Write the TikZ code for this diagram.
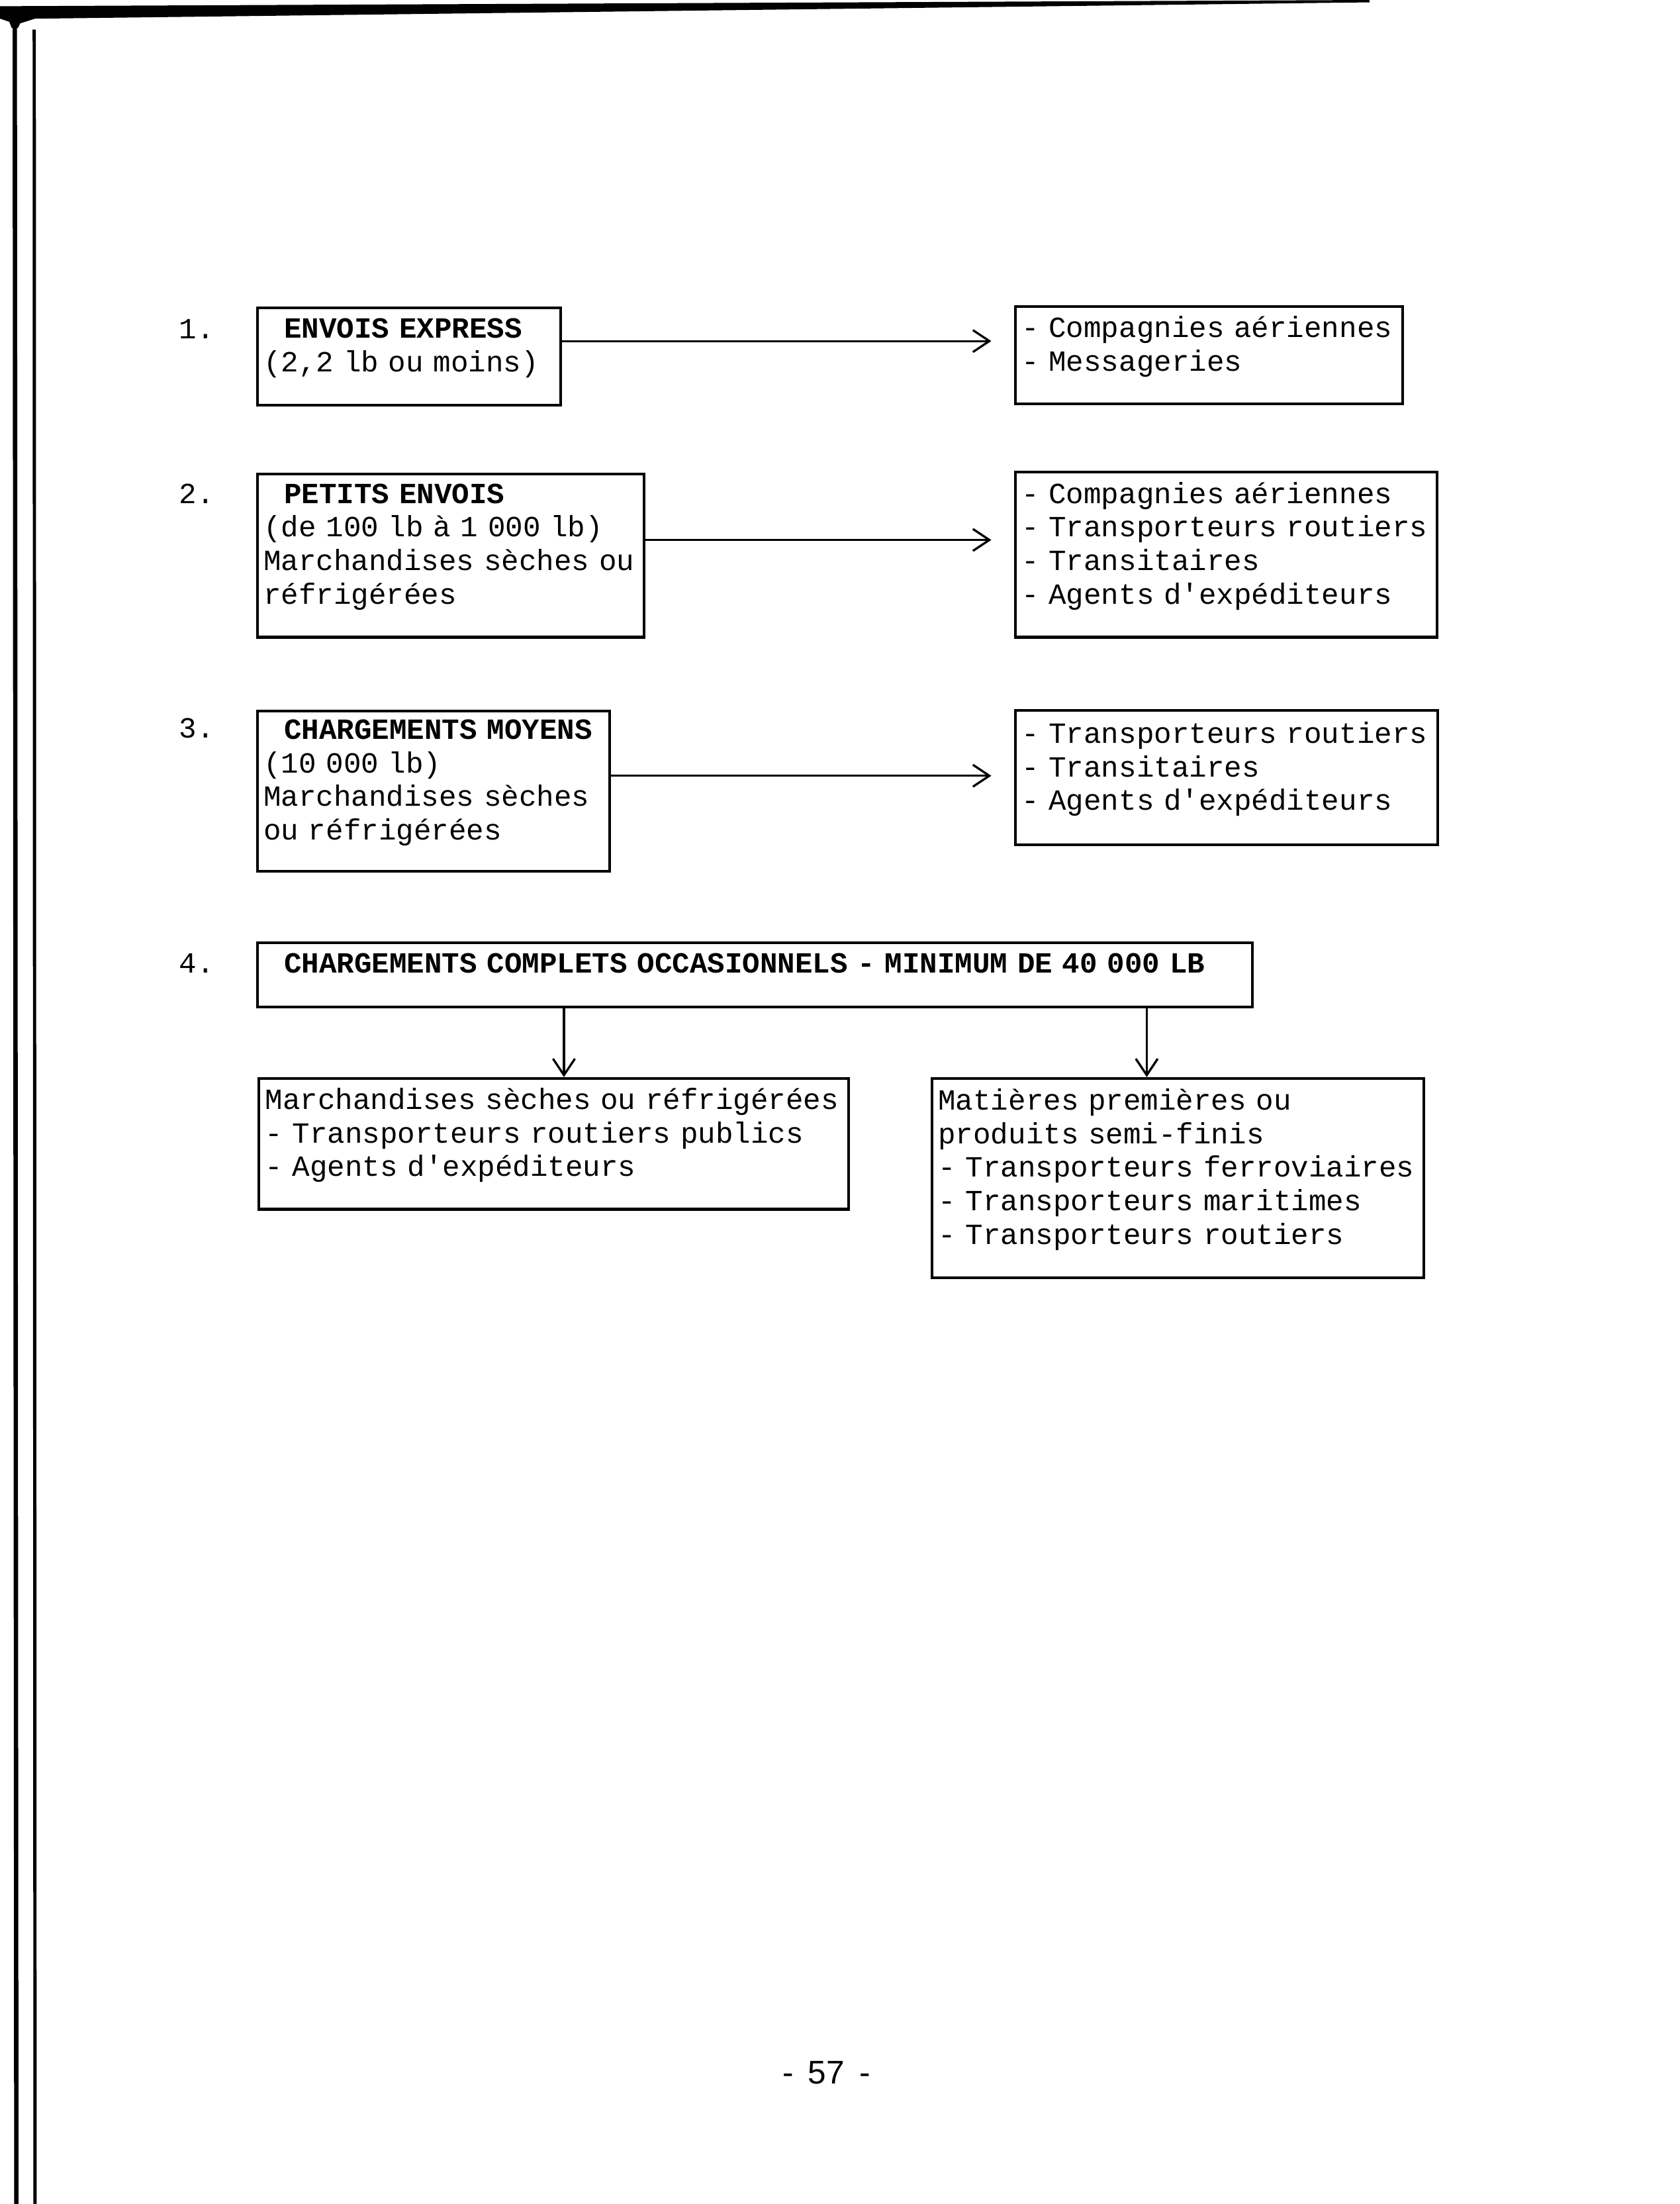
\documentclass[tikz,border=0pt]{standalone}
\usepackage{fontspec}
\setmonofont{Liberation Mono}
\setsansfont{Liberation Sans}
\usetikzlibrary{positioning,arrows.meta}
\newcommand{\lastdp}{\rule[-8.5pt]{0pt}{8.5pt}}

\begin{document}
\begin{tikzpicture}[
  box/.style={rectangle, draw, line width=1pt, anchor=north west, inner xsep=0.08cm, inner ysep=0pt,
    align=left, font=\ttfamily\fontsize{10.7}{12.3}\selectfont},
  num/.style={font=\ttfamily\fontsize{10.7}{12}\selectfont},
  flow/.style={-{Straight Barb[length=6pt,width=8pt]}, line width=0.8pt}
]
\useasboundingbox (0,0) rectangle (21.59,-28.32);

% page border
\fill (0,-0.08) -- (17.6,0) -- (17.6,-0.03) -- (0.45,-0.24) -- (0.26,-0.30) -- (0.23,-0.36) -- (0.15,-0.36) -- (0.12,-0.28) -- (0,-0.24) -- cycle;
\draw[line width=1.6pt] (0.19,-0.30) -- (0.21,-28.32);
\draw[line width=1.2pt] (0.44,-0.38) -- (0.45,-28.32);

% 1.
\node[num] (n1) at (2.53,-4.23) {1.};
\node[box, text width=3.74cm, minimum height=1.25cm] (b1) at (3.29,-3.94) {\hspace*{0.7em}\textbf{ENVOIS EXPRESS}\\(2,2 lb ou moins)\lastdp};
\node[box, text width=4.82cm, minimum height=1.25cm] (r1) at (13.03,-3.92) {- Compagnies aériennes\\- Messageries\lastdp};

% 2.
\node[num] (n2) at (2.53,-6.34) {2.};
\node[box, text width=4.81cm, minimum height=2.10cm] (b2) at (3.29,-6.07) {\hspace*{0.7em}\textbf{PETITS ENVOIS}\\(de 100 lb à 1 000 lb)\\Marchandises sèches ou\\réfrigérées\lastdp};
\node[box, text width=5.26cm, minimum height=2.12cm] (r2) at (13.03,-6.05) {- Compagnies aériennes\\- Transporteurs routiers\\- Transitaires\\- Agents d'expéditeurs\lastdp};

% 3.
\node[num] (n3) at (2.53,-9.36) {3.};
\node[box, text width=4.37cm, minimum height=2.06cm] (b3) at (3.29,-9.12) {\hspace*{0.7em}\textbf{CHARGEMENTS MOYENS}\\(10 000 lb)\\Marchandises sèches\\ou réfrigérées\lastdp};
\node[box, text width=5.27cm, minimum height=1.73cm] (r3) at (13.03,-9.11) {- Transporteurs routiers\\- Transitaires\\- Agents d'expéditeurs\lastdp};

% 4.
\node[num] (n4) at (2.53,-12.38) {4.};
\node[box, text width=12.63cm, minimum height=0.82cm] (b4) at (3.29,-12.10) {\hspace*{0.7em}\textbf{CHARGEMENTS COMPLETS OCCASIONNELS - MINIMUM DE 40 000 LB}\lastdp};
\node[box, text width=7.42cm, minimum height=1.68cm] (m1) at (3.31,-13.84) {Marchandises sèches ou réfrigérées\\- Transporteurs routiers publics\\- Agents d'expéditeurs\lastdp};
\node[box, text width=6.16cm, minimum height=2.56cm] (m2) at (11.96,-13.84) {Matières premières ou\\produits semi-finis\\- Transporteurs ferroviaires\\- Transporteurs maritimes\\- Transporteurs routiers\lastdp};

% arrows
\draw[flow, shorten >=0.29cm] ([yshift=0.2cm]b1.east) coordinate (s1) -- (s1 -| r1.west);
\draw[flow, shorten >=0.29cm] ([yshift=0.2cm]b2.east) coordinate (s2) -- (s2 -| r2.west);
\draw[flow, shorten >=0.29cm] ([yshift=0.2cm]b3.east) coordinate (s3) -- (s3 -| r3.west);
\coordinate (t1) at ([xshift=0.13cm]m1.north);
\coordinate (t2) at ([xshift=-0.40cm]m2.north);
\draw[flow] (t1 |- b4.south) -- (t1);
\draw[flow] (t2 |- b4.south) -- (t2);

\node[font=\sffamily\fontsize{12}{14}\selectfont] (pg) at (10.62,-26.63) {-\hspace{0.45em}57\hspace{0.45em}-};
\end{tikzpicture}
\end{document}
